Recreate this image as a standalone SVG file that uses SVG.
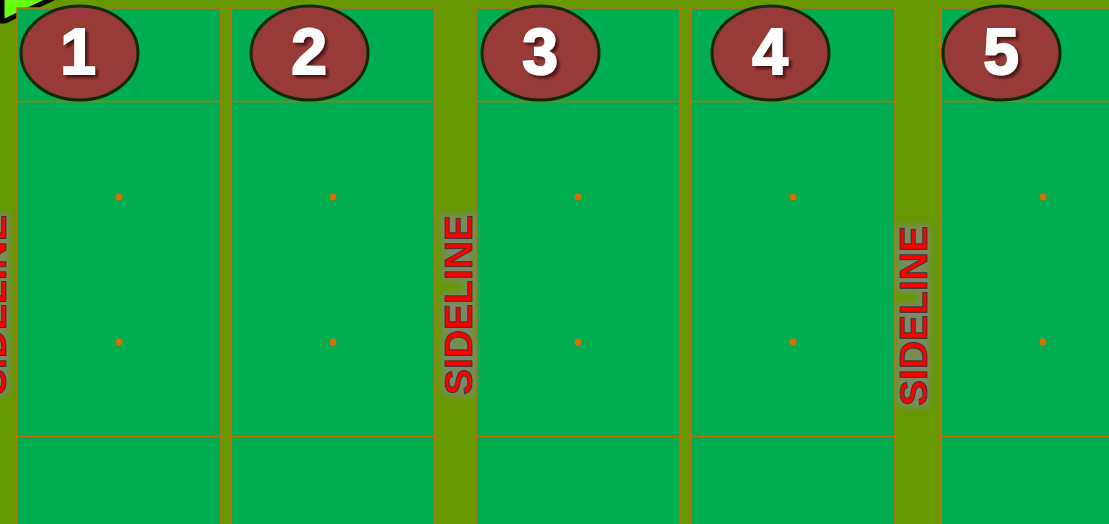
<svg xmlns="http://www.w3.org/2000/svg" width="1109" height="524" viewBox="0 0 1109 524">
<defs>
<style>
.field{fill:#00ad50;stroke:#cc6a00;stroke-width:1.5}
.hl{stroke:#cc6a00;stroke-width:1.5}
.dot{fill:#e06c00}
.badge{fill:#983a38;stroke:#102a08;stroke-width:3}
.num{font-family:"Liberation Sans",Arial,sans-serif;font-weight:bold;font-size:64px;fill:#ffffff;stroke:#ffffff;stroke-width:2;text-anchor:middle}
.side{font-family:"Liberation Sans",Arial,sans-serif;font-weight:bold;font-size:39px;fill:#ff0000;stroke:#333333;stroke-width:1;text-anchor:middle}
</style>
<filter id="shadow" x="-30%" y="-30%" width="160%" height="160%">
<feGaussianBlur in="SourceAlpha" stdDeviation="1.2"/>
<feOffset dx="2.5" dy="2.5" result="b"/>
<feFlood flood-color="#3a1010" flood-opacity="0.8"/>
<feComposite in2="b" operator="in" result="s"/>
<feMerge><feMergeNode in="s"/><feMergeNode in="SourceGraphic"/></feMerge>
</filter>
<filter id="glow" x="-30%" y="-30%" width="160%" height="160%">
<feMorphology in="SourceAlpha" operator="dilate" radius="3" result="d"/>
<feGaussianBlur in="d" stdDeviation="3.5" result="b"/>
<feFlood flood-color="#7a8a68" flood-opacity="1"/>
<feComposite in2="b" operator="in" result="g"/>
<feMerge><feMergeNode in="g"/><feMergeNode in="SourceGraphic"/></feMerge>
</filter>
</defs>
<rect x="0" y="0" width="1109" height="524" fill="#669900"/>
<polygon points="2,-6 62,-6 5,21 2,21" fill="#66ff11" stroke="#000000" stroke-width="5"/>

<g id="field1">
<rect class="field" x="17" y="8" width="204" height="530"/>
<line class="hl" x1="17" y1="101.5" x2="221" y2="101.5"/>
<line class="hl" x1="17" y1="436.5" x2="221" y2="436.5"/>
<circle class="dot" cx="119" cy="197" r="3.5"/>
<circle class="dot" cx="119" cy="342" r="3.5"/>
<ellipse class="badge" cx="79.5" cy="53" rx="58.5" ry="47"/>
<text class="num" x="78" y="74" filter="url(#shadow)">1</text>
</g>
<g id="field2">
<rect class="field" x="231" y="8" width="204" height="530"/>
<line class="hl" x1="231" y1="101.5" x2="435" y2="101.5"/>
<line class="hl" x1="231" y1="436.5" x2="435" y2="436.5"/>
<circle class="dot" cx="333" cy="197" r="3.5"/>
<circle class="dot" cx="333" cy="342" r="3.5"/>
<ellipse class="badge" cx="309.5" cy="53" rx="58.5" ry="47"/>
<text class="num" x="309" y="74" filter="url(#shadow)">2</text>
</g>
<g id="field3">
<rect class="field" x="476" y="8" width="204" height="530"/>
<line class="hl" x1="476" y1="101.5" x2="680" y2="101.5"/>
<line class="hl" x1="476" y1="436.5" x2="680" y2="436.5"/>
<circle class="dot" cx="578" cy="197" r="3.5"/>
<circle class="dot" cx="578" cy="342" r="3.5"/>
<ellipse class="badge" cx="540.5" cy="53" rx="58.5" ry="47"/>
<text class="num" x="540" y="74" filter="url(#shadow)">3</text>
</g>
<g id="field4">
<rect class="field" x="691" y="8" width="204" height="530"/>
<line class="hl" x1="691" y1="101.5" x2="895" y2="101.5"/>
<line class="hl" x1="691" y1="436.5" x2="895" y2="436.5"/>
<circle class="dot" cx="793" cy="197" r="3.5"/>
<circle class="dot" cx="793" cy="342" r="3.5"/>
<ellipse class="badge" cx="770.5" cy="53" rx="58.5" ry="47"/>
<text class="num" x="770" y="74" filter="url(#shadow)">4</text>
</g>
<g id="field5">
<rect class="field" x="941" y="8" width="204" height="530"/>
<line class="hl" x1="941" y1="101.5" x2="1145" y2="101.5"/>
<line class="hl" x1="941" y1="436.5" x2="1145" y2="436.5"/>
<circle class="dot" cx="1043" cy="197" r="3.5"/>
<circle class="dot" cx="1043" cy="342" r="3.5"/>
<ellipse class="badge" cx="1001.5" cy="53" rx="58.5" ry="47"/>
<text class="num" x="1001" y="74" filter="url(#shadow)">5</text>
</g>

<g id="sidelines" filter="url(#glow)">
<text class="side" transform="translate(6,305) rotate(-90)">SIDELINE</text>
<text class="side" transform="translate(472,305) rotate(-90)">SIDELINE</text>
<text class="side" transform="translate(927,316) rotate(-90)">SIDELINE</text>
</g>
<g id="connectors"/>
</svg>
